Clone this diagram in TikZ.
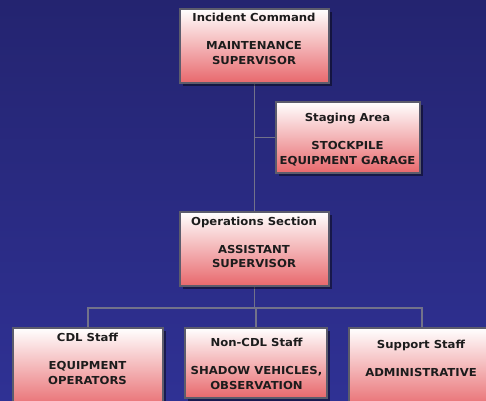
\documentclass[tikz,border=0pt]{standalone}
\usepackage{fontspec}
\newfontfamily\orgfont{DejaVu Sans}[FakeStretch=1.06]
\usetikzlibrary{shadows}
\definecolor{bgtop}{HTML}{242470}
\definecolor{bgbot}{HTML}{2F3194}
\definecolor{boxbot}{HTML}{E8686C}
\definecolor{boxedge}{HTML}{5C5C6C}
\definecolor{linkcol}{HTML}{72728A}
\definecolor{txt}{HTML}{1C1C1C}
\pgfdeclarelayer{back}
\pgfdeclarelayer{links}
\pgfsetlayers{back,links,main}
\tikzset{
  orgbox/.style={rectangle, draw=boxedge, line width=1.2pt, inner sep=0pt, outer sep=0pt,
    top color=white, bottom color=boxbot,
    drop shadow={shadow xshift=3pt, shadow yshift=-3pt, fill=black, opacity=0.45}},
  orgtext/.style={anchor=north, inner sep=0pt, align=center, text=txt,
    font=\orgfont\bfseries\fontsize{11pt}{14.3pt}\selectfont},
  link/.style={draw=linkcol, line width=1.7pt}
}
\begin{document}
\begin{tikzpicture}[x=1pt,y=-1pt]
\clip (0,0) rectangle (486,400);
\useasboundingbox (0,0) rectangle (486,400);
\begin{pgfonlayer}{back}
\shade[top color=bgtop, bottom color=bgbot] (0,0) rectangle (486,400);
\end{pgfonlayer}
% boxes
\node[orgbox, minimum width=149pt, minimum height=74pt] (cmd) at (254.5,46) {};
\node[orgbox, minimum width=144pt, minimum height=71pt] (stg) at (348,137.5) {};
\node[orgbox, minimum width=149pt, minimum height=74pt] (ops) at (254.5,249) {};
\node[orgbox, minimum width=150pt, minimum height=82pt] (cdl) at (88,369) {};
\node[orgbox, minimum width=142pt, minimum height=70pt] (ncdl) at (256,363) {};
\node[orgbox, minimum width=146pt, minimum height=82pt] (sup) at (422,369) {};
% texts
\node[orgtext] (cmdt) at (254,12.7) {Incident Command\\[14.3pt]MAINTENANCE\\SUPERVISOR};
\node[orgtext] (stgt) at (347.5,112.7) {Staging Area\\[14.3pt]STOCKPILE\\EQUIPMENT GARAGE};
\node[orgtext] (opst) at (254,216.5) {Operations Section\\[14.3pt]ASSISTANT\\SUPERVISOR};
\node[orgtext] (cdlt) at (87.5,332.7) {CDL Staff\\[14.3pt]EQUIPMENT\\OPERATORS};
\node[orgtext] (ncdlt) at (256.5,337.7) {Non-CDL Staff\\[14.3pt]SHADOW VEHICLES,\\OBSERVATION};
\node[orgtext] (supt) at (421,339.7) {Support Staff\\[14.3pt]ADMINISTRATIVE};
% connectors
\begin{pgfonlayer}{links}
\coordinate (j1) at (cmd.south |- stg.west);
\coordinate (bus) at (ops.south |- 0,308);
\draw[link] (cmd.south) -- (ops.north);
\draw[link] (j1) -- (stg.west);
\draw[link] (ops.south) -- (bus);
\draw[link] (bus) -| (cdl.north);
\draw[link] (bus) -| (sup.north);
\draw[link] (bus) -| (ncdl.north);
\end{pgfonlayer}
\end{tikzpicture}
\end{document}
